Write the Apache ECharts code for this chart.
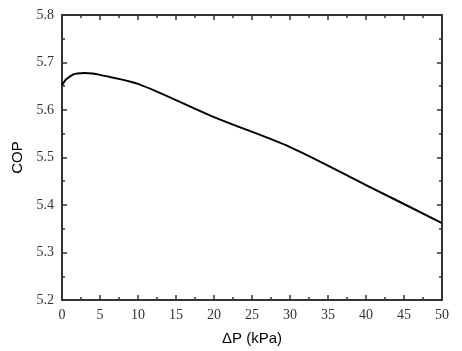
<!DOCTYPE html>
<html>
<head>
<meta charset="utf-8">
<script src="https://cdn.jsdelivr.net/npm/echarts@6/dist/echarts.min.js"></script>
<style>html,body{margin:0;padding:0;background:#fff;}#c{width:462px;height:351px;}</style>
</head>
<body>
<div id="c"></div>
<script>
const deltaP = [0, 0.5, 1, 1.5, 2, 3, 4, 5, 10, 20, 30, 40, 50];
const cop = [5.652, 5.664, 5.670, 5.675, 5.677, 5.678, 5.677, 5.674, 5.655, 5.585, 5.522, 5.442, 5.362];
const xTicks = [0, 5, 10, 15, 20, 25, 30, 35, 40, 45, 50];
const yTicks = [5.2, 5.3, 5.4, 5.5, 5.6, 5.7, 5.8];

const axisColor = '#333';
const serif = '"Liberation Serif", "Times New Roman", serif';
const sans = '"Liberation Sans", Arial, sans-serif';

function baseX(show, pos) {
  return {
    type: 'value', min: 0, max: 50, interval: 5, position: pos,
    axisLine: { show: true, onZero: false, lineStyle: { color: axisColor, width: 2 } },
    axisTick: { show: true, inside: true, length: 5, lineStyle: { color: axisColor, width: 1.5 } },
    minorTick: { show: true, splitNumber: 2, length: 3, lineStyle: { color: axisColor, width: 1.5 } },
    axisLabel: { show: show, fontFamily: serif, fontSize: 14, color: '#333', margin: 8 },
    splitLine: { show: false }
  };
}
function baseY(show, pos) {
  return {
    type: 'value', min: 5.2, max: 5.8, interval: 0.1, position: pos,
    axisLine: { show: true, onZero: false, lineStyle: { color: axisColor, width: 2 } },
    axisTick: { show: true, inside: true, length: 5, lineStyle: { color: axisColor, width: 1.5 } },
    minorTick: { show: true, splitNumber: 2, length: 3, lineStyle: { color: axisColor, width: 1.5 } },
    axisLabel: { show: show, fontFamily: serif, fontSize: 14, color: '#333', margin: 8,
      formatter: v => v.toFixed(1) },
    splitLine: { show: false }
  };
}

const xMain = Object.assign(baseX(true, 'bottom'), {
  name: 'ΔP (kPa)', nameLocation: 'middle', nameGap: 31,
  nameTextStyle: { fontFamily: sans, fontSize: 15, color: '#000' }
});
const yMain = Object.assign(baseY(true, 'left'), {
  name: 'COP', nameLocation: 'middle', nameGap: 35,
  nameTextStyle: { fontFamily: sans, fontSize: 15, color: '#000' }
});

const chart = echarts.init(document.getElementById('c'), null, { renderer: 'canvas' });
chart.setOption({
  animation: false,
  backgroundColor: '#fff',
  grid: { left: 62, right: 20, top: 15, bottom: 51, containLabel: false },
  xAxis: [xMain, baseX(false, 'top')],
  yAxis: [yMain, baseY(false, 'right')],
  series: [{
    type: 'line',
    data: deltaP.map((x, i) => [x, cop[i]]),
    xAxisIndex: 0, yAxisIndex: 0,
    showSymbol: false, smooth: 0.3,
    lineStyle: { color: '#000', width: 2 }
  }]
});
</script>
</body>
</html>
